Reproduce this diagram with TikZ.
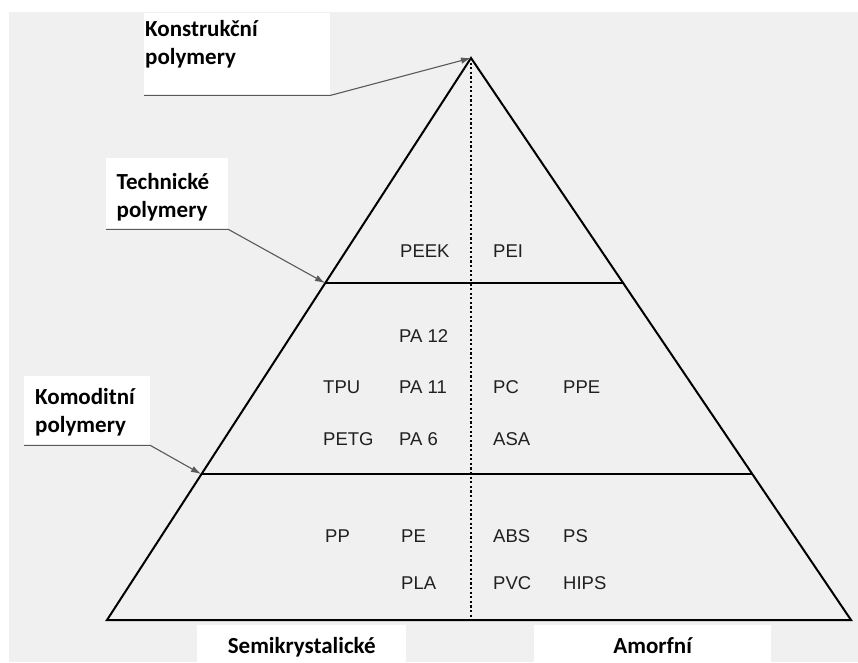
\documentclass[tikz,border=0pt]{standalone}
\usepackage{fontspec}
\setmainfont{Liberation Sans}
\newfontfamily\tagfont{Carlito}
\usetikzlibrary{arrows.meta}

\definecolor{panelgray}{HTML}{F0F0F0}
\definecolor{inkgray}{HTML}{202020}

\begin{document}
\begin{tikzpicture}[x=1pt,y=-1pt,
    polymer/.style={anchor=base west,inner sep=0pt,text=inkgray,font=\fontsize{18.5}{18.5}\selectfont},
    tag/.style={anchor=north west,fill=white,inner ysep=0pt,align=left,font=\tagfont\bfseries\fontsize{23}{27.5}\selectfont},
    basetag/.style={anchor=north west,fill=white,inner sep=0pt,align=center,font=\tagfont\bfseries\fontsize{23}{23}\selectfont,text height=28pt,text depth=10pt},
    pointer/.style={draw=black!65,line width=1.1pt,-{Latex[length=10pt,width=6.5pt]}},
    edge/.style={line width=2pt,line join=miter},
    divider/.style={line width=2pt,dash pattern=on 2.2pt off 2.4pt}
    ]

    % page and grey panel
    \fill[white] (0,0) rectangle (858,662);
    \useasboundingbox (0,0) rectangle (858,662);
    \fill[panelgray] (9,12) rectangle (858,662);

    % pyramid corners and layer ends
    \coordinate (apex) at (471,58);
    \coordinate (bl) at (107,620);
    \coordinate (br) at (851,620);
    \coordinate (bm) at (471,620);
    \coordinate (tl) at (325,283);
    \coordinate (tr) at (624,283);
    \coordinate (cl) at (201,474);
    \coordinate (cr) at (753,474);

    \draw[edge] (apex) -- (bl) -- (br) -- cycle;
    \draw[edge] (tl) -- (tr);
    \draw[edge] (cl) -- (cr);
    \draw[divider] (apex) -- (bm);

    % polymers
    \foreach \id/\txt/\x/\y in {peek/PEEK/400/257, pei/PEI/493/257,
        pa12/PA 12/399/342,
        tpu/TPU/323/393, pa11/PA 11/399/393, pc/PC/493/393, ppe/PPE/563/393,
        petg/PETG/323/445, pa6/PA 6/399/445, asa/ASA/493/445,
        pp/PP/325/542, pe/PE/401/542, abs/ABS/493/542, ps/PS/563/542,
        pla/PLA/401/589, pvc/PVC/493/589, hips/HIPS/563/589}
      \node (\id) [polymer] at (\x,\y) {\txt};

    % class labels
    \node (konstr) [tag,inner xsep=1pt,text width=184pt,text height=23.7pt,text depth=58.3pt] at (144,13) {Konstrukční\\polymery};
    \node (techn) [tag,inner xsep=10.5pt,text width=101pt,text height=31.3pt,text depth=39.7pt] at (106,158) {Technické\\polymery};
    \node (komod) [tag,inner xsep=11pt,text width=104pt,text height=28.3pt,text depth=40.7pt] at (24,376) {Komoditní\\polymery};

    \draw[pointer] (konstr.south west) -- (konstr.south east) -- (apex);
    \draw[pointer] (techn.south west) -- (techn.south east) -- (tl);
    \draw[pointer] (komod.south west) -- (komod.south east) -- (cl);

    % bottom labels
    \node (semi) [basetag,minimum width=209pt] at (197,625) {Semikrystalické};
    \node (amorf) [basetag,minimum width=237pt] at (534,625) {Amorfní};

\end{tikzpicture}
\end{document}
